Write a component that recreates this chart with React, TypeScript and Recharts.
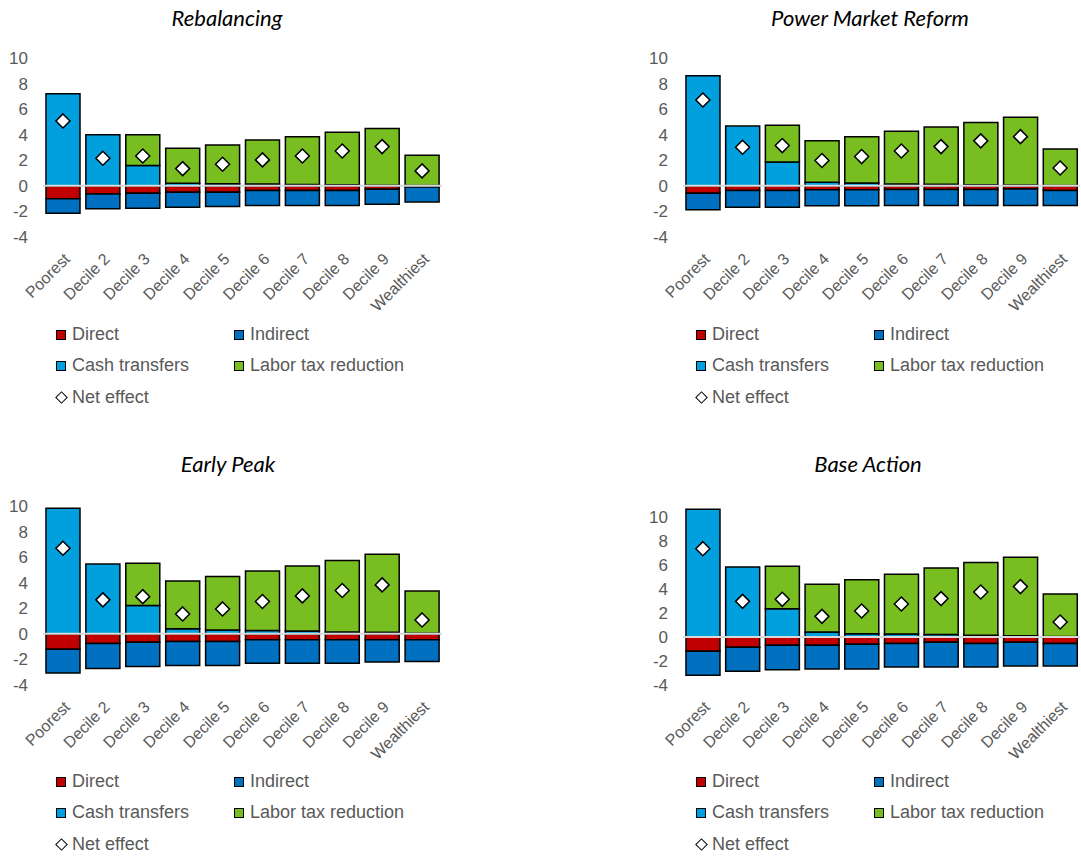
import React from 'react'
import { Bar, ComposedChart, Line, ReferenceLine, XAxis, YAxis } from 'recharts'

const DECILES = ['Poorest', 'Decile 2', 'Decile 3', 'Decile 4', 'Decile 5', 'Decile 6', 'Decile 7', 'Decile 8', 'Decile 9', 'Wealthiest']
const Y_TICKS = [-4, -2, 0, 2, 4, 6, 8, 10]

// Rebalancing
const REB_DIRECT = [-1.0, -0.63, -0.57, -0.5, -0.5, -0.36, -0.36, -0.36, -0.26, -0.08]
const REB_INDIRECT = [-1.15, -1.17, -1.18, -1.17, -1.11, -1.18, -1.18, -1.18, -1.17, -1.19]
const REB_CASH = [7.2, 4.0, 1.6, 0.2, 0.17, 0.15, 0.1, 0.08, 0.05, 0.02]
const REB_LABOR = [0, 0, 2.4, 2.74, 3.03, 3.44, 3.75, 4.11, 4.43, 2.38]
const REB_NET = [5.08, 2.16, 2.34, 1.35, 1.69, 2.03, 2.34, 2.73, 3.07, 1.17]

// Power Market Reform
const PMR_DIRECT = [-0.57, -0.36, -0.36, -0.31, -0.31, -0.28, -0.28, -0.28, -0.25, -0.36]
const PMR_INDIRECT = [-1.3, -1.31, -1.31, -1.25, -1.25, -1.26, -1.26, -1.26, -1.29, -1.18]
const PMR_CASH = [8.62, 4.69, 1.87, 0.29, 0.22, 0.15, 0.12, 0.08, 0.06, 0.03]
const PMR_LABOR = [0, 0, 2.87, 3.23, 3.63, 4.12, 4.49, 4.87, 5.3, 2.86]
const PMR_NET = [6.72, 3.02, 3.15, 1.98, 2.29, 2.73, 3.07, 3.52, 3.85, 1.4]

// Early Peak
const EP_DIRECT = [-1.2, -0.75, -0.65, -0.6, -0.6, -0.47, -0.47, -0.47, -0.47, -0.47]
const EP_INDIRECT = [-1.87, -1.96, -1.9, -1.87, -1.87, -1.82, -1.82, -1.82, -1.74, -1.69]
const EP_CASH = [9.82, 5.47, 2.21, 0.39, 0.3, 0.26, 0.22, 0.15, 0.12, 0.05]
const EP_LABOR = [0, 0, 3.31, 3.75, 4.18, 4.66, 5.09, 5.58, 6.1, 3.31]
const EP_NET = [6.7, 2.66, 2.91, 1.56, 1.95, 2.53, 2.97, 3.39, 3.83, 1.09]

// Base Action
const BA_DIRECT = [-1.19, -0.85, -0.69, -0.69, -0.61, -0.55, -0.44, -0.55, -0.44, -0.55]
const BA_INDIRECT = [-2.0, -2.01, -2.03, -1.98, -2.06, -1.95, -2.06, -1.95, -1.98, -1.87]
const BA_CASH = [10.64, 5.83, 2.36, 0.42, 0.28, 0.25, 0.2, 0.15, 0.1, 0.05]
const BA_LABOR = [0, 0, 3.53, 3.97, 4.5, 4.97, 5.55, 6.05, 6.54, 3.53]
const BA_NET = [7.36, 2.97, 3.14, 1.72, 2.17, 2.75, 3.2, 3.75, 4.2, 1.25]

const RED = '#C00000'
const BLUE = '#0070C0'
const CYAN = '#00A0DE'
const GREEN = '#78BE20'
const TEXT = '#595959'
const AXIS_FONT = '"Liberation Sans", Arial, sans-serif'

const LEGEND = [
  { name: 'Direct', color: RED, kind: 'square' },
  { name: 'Indirect', color: BLUE, kind: 'square' },
  { name: 'Cash transfers', color: CYAN, kind: 'square' },
  { name: 'Labor tax reduction', color: GREEN, kind: 'square' },
  { name: 'Net effect', color: '#fff', kind: 'diamond' },
]

function buildRows (direct: number[], indirect: number[], cash: number[], labor: number[], net: number[]) {
  return DECILES.map((label, i) => ({
    label, direct: direct[i], indirect: indirect[i], cash: cash[i], labor: labor[i], net: net[i],
  }))
}

function Diamond (props: { cx?: number; cy?: number; index?: number }) {
  const { cx, cy, index } = props
  if (cx == null || cy == null) return null
  const r = 7
  return (
    <path
      key={`d-${index}`}
      d={`M${cx},${cy - r}L${cx + r},${cy}L${cx},${cy + r}L${cx - r},${cy}Z`}
      fill="#fff"
      stroke="#000"
      strokeWidth={1.5}
    />
  )
}

function DecileTick (props: { x?: number; y?: number; payload?: { value: string } }) {
  const { x = 0, y = 0, payload } = props
  const tx = x + 8
  const ty = y + 23
  return (
    <text
      x={tx}
      y={ty}
      transform={`rotate(-45 ${tx} ${ty})`}
      textAnchor="end"
      fill={TEXT}
      fontSize={16}
      fontFamily={AXIS_FONT}
    >
      {payload?.value}
    </text>
  )
}

type PanelProps = {
  title: string
  left: number
  top: number
  width: number
  marginTop: number
  marginRight: number
  yMax: number
  rows: ReturnType<typeof buildRows>
  titleX: number
  titleY: number
  legendY: number
}

function Panel ({ title, left, top, width, marginTop, marginRight, yMax, rows, titleX, titleY, legendY }: PanelProps) {
  return (
    <>
      <div
        style={{
          position: 'absolute', left: titleX - 200, top: titleY, width: 400, textAlign: 'center',
          fontFamily: 'Lato, sans-serif', fontStyle: 'italic', fontWeight: 400, fontSize: 22, lineHeight: '26px', color: '#000',
        }}
      >
        {title}
      </div>
      <div style={{ position: 'absolute', left, top }}>
        <ComposedChart
          width={width}
          height={280}
          data={rows}
          stackOffset="sign"
          barCategoryGap="7.5%"
          margin={{ top: marginTop, right: marginRight, bottom: 5, left: 0 }}
        >
          <XAxis
            dataKey="label"
            axisLine={false}
            tickLine={false}
            tickSize={0}
            tickMargin={0}
            interval={0}
            height={78}
            tick={(p: any) => <DecileTick {...p} />}
          />
          <YAxis
            domain={[-4, yMax]}
            ticks={Y_TICKS}
            interval={0}
            allowDataOverflow
            axisLine={false}
            tickLine={false}
            tickSize={0}
            tickMargin={15}
            width={43}
            tick={{ fill: TEXT, fontSize: 17, fontFamily: AXIS_FONT }}
          />
          <Bar dataKey="direct" stackId="s" fill={RED} stroke="#000" strokeWidth={1.5} isAnimationActive={false} />
          <Bar dataKey="indirect" stackId="s" fill={BLUE} stroke="#000" strokeWidth={1.5} isAnimationActive={false} />
          <Bar dataKey="cash" stackId="s" fill={CYAN} stroke="#000" strokeWidth={1.5} isAnimationActive={false} />
          <Bar dataKey="labor" stackId="s" fill={GREEN} stroke="#000" strokeWidth={1.5} isAnimationActive={false} />
          <ReferenceLine y={0} stroke="#D9D9D9" strokeWidth={2} />
          <Line
            dataKey="net"
            stroke="none"
            dot={(p: any) => <Diamond {...p} />}
            activeDot={false}
            isAnimationActive={false}
          />
        </ComposedChart>
      </div>
      <div
        style={{
          position: 'absolute', left: left + 56, top: legendY, display: 'grid',
          gridTemplateColumns: '178px 200px', gridAutoRows: '31.3px',
          fontFamily: AXIS_FONT, fontSize: 18, color: TEXT,
        }}
      >
        {LEGEND.map((item) => (
          <div key={item.name} style={{ display: 'flex', alignItems: 'center', whiteSpace: 'nowrap' }}>
            {item.kind === 'square'
              ? <span style={{ width: 8, height: 8, background: item.color, border: '1px solid #000', marginRight: 6 }} />
              : <span style={{ width: 7, height: 7, background: '#fff', border: '1.5px solid #000', transform: 'rotate(45deg)', marginLeft: 1, marginRight: 6 }} />}
            <span>{item.name}</span>
          </div>
        ))}
      </div>
    </>
  )
}

export default function App () {
  return (
    <div style={{ position: 'absolute', left: 0, top: 0, width: 1081, height: 858, background: '#fff' }}>
      <Panel
        title="Rebalancing" left={0} top={40} width={450} marginTop={18} marginRight={8} yMax={10}
        rows={buildRows(REB_DIRECT, REB_INDIRECT, REB_CASH, REB_LABOR, REB_NET)}
        titleX={227} titleY={5} legendY={319}
      />
      <Panel
        title="Power Market Reform" left={640} top={40} width={441} marginTop={18} marginRight={1} yMax={10}
        rows={buildRows(PMR_DIRECT, PMR_INDIRECT, PMR_CASH, PMR_LABOR, PMR_NET)}
        titleX={870} titleY={5} legendY={319}
      />
      <Panel
        title="Early Peak" left={0} top={488} width={450} marginTop={18} marginRight={8} yMax={10}
        rows={buildRows(EP_DIRECT, EP_INDIRECT, EP_CASH, EP_LABOR, EP_NET)}
        titleX={228} titleY={451} legendY={766}
      />
      <Panel
        title="Base Action" left={640} top={488} width={441} marginTop={17} marginRight={1} yMax={11}
        rows={buildRows(BA_DIRECT, BA_INDIRECT, BA_CASH, BA_LABOR, BA_NET)}
        titleX={868} titleY={451} legendY={766}
      />
    </div>
  )
}
